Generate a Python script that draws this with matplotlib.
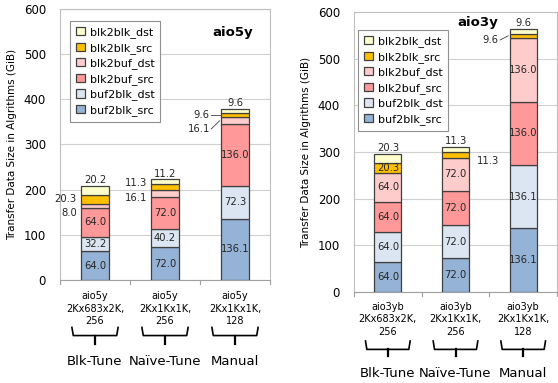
import matplotlib
matplotlib.use('Agg')
import numpy as np
import matplotlib.pyplot as plt

plt.rcParams['font.family'] = ['DejaVu Sans']

# Data (GiB)
series = ['buf2blk_src', 'buf2blk_dst', 'blk2buf_src', 'blk2buf_dst', 'blk2blk_src', 'blk2blk_dst']
colors = ['#95B3D7', '#DCE6F2', '#FF9999', '#FFCCCC', '#FFC000', '#FFFFCC']
groups = ['Blk-Tune', 'Naïve-Tune', 'Manual']

aio5y_labels = ['aio5y\n2Kx683x2K,\n256', 'aio5y\n2Kx1Kx1K,\n256', 'aio5y\n2Kx1Kx1K,\n128']
aio5y_vals = np.array([
    [64.0, 72.0, 136.1],   # buf2blk_src
    [32.2, 40.2, 72.3],    # buf2blk_dst
    [64.0, 72.0, 136.0],   # blk2buf_src
    [8.0, 16.1, 16.1],     # blk2buf_dst
    [20.3, 11.3, 9.6],     # blk2blk_src
    [20.2, 11.2, 9.6],     # blk2blk_dst
])

aio3y_labels = ['aio3yb\n2Kx683x2K,\n256', 'aio3yb\n2Kx1Kx1K,\n256', 'aio3yb\n2Kx1Kx1K,\n128']
aio3y_vals = np.array([
    [64.0, 72.0, 136.1],
    [64.0, 72.0, 136.1],
    [64.0, 72.0, 136.0],
    [64.0, 72.0, 136.0],
    [20.3, 11.3, 9.6],
    [20.3, 11.3, 9.6],
])

# how each segment label is placed: (series index, bar index) -> (mode, y shift)
aio5y_place = {
    (3, 0): ('left', -16), (4, 0): ('left', 0), (5, 0): ('top', 0),
    (3, 1): ('left', -11), (4, 1): ('left', 9), (5, 1): ('top', 0),
    (3, 2): ('lead', -18), (4, 2): ('lead', 0), (5, 2): ('top', 0),
}
aio3y_place = {
    (5, 0): ('top', 0),
    (4, 1): ('right', -12), (5, 1): ('top', 0),
    (4, 2): ('lead', -9), (5, 2): ('top', 0),
}

W, H = 558, 383
fig = plt.figure(figsize=(W / 100, H / 100), dpi=100)
LBL = 7.2


def draw_panel(rect, vals, cat_labels, place, title, title_xy, leg_anchor,
               brace_y, group_y, xpad):
    ax = fig.add_axes([rect[0] / W, 1 - rect[3] / H, (rect[2] - rect[0]) / W,
                       (rect[3] - rect[1]) / H])
    x = np.arange(len(cat_labels))
    bw = 0.4
    bottom = np.zeros(len(x))
    for i, name in enumerate(series):
        ax.bar(x, vals[i], bw, bottom=bottom, color=colors[i], edgecolor='#404040',
               linewidth=0.9, label=name, zorder=3)
        for j in range(len(x)):
            v = vals[i, j]
            yc = bottom[j] + v / 2
            mode, dy = place.get((i, j), ('in', 0))
            txt = f'{v:.1f}'
            if mode == 'in':
                ax.text(x[j], yc, txt, ha='center', va='center', fontsize=LBL,
                        color='#262626', zorder=4)
            elif mode == 'top':
                ax.text(x[j], bottom[j] + v + 1.5, txt, ha='center', va='bottom',
                        fontsize=LBL, color='#262626')
            elif mode == 'left':
                ax.text(x[j] - bw / 2 - 0.06, yc + dy, txt, ha='right', va='center',
                        fontsize=LBL, color='#262626')
            elif mode == 'right':
                ax.text(x[j] + bw / 2 + 0.12, yc + dy, txt, ha='left', va='center',
                        fontsize=LBL, color='#262626')
            elif mode == 'lead':
                ax.plot([x[j] - bw / 2 - 0.14, x[j] - bw / 2 - 0.02],
                        [yc + dy, yc], color='#404040', lw=0.6, zorder=2)
                ax.text(x[j] - bw / 2 - 0.16, yc + dy, txt, ha='right', va='center',
                        fontsize=LBL, color='#262626')
        bottom += vals[i]

    ax.set_ylim(0, 600)
    ax.set_xlim(-0.5, len(x) - 0.5)
    ax.set_yticks(np.arange(0, 601, 100))
    ax.yaxis.grid(True, color='#D0D0D0', lw=0.8, zorder=0)
    ax.tick_params(axis='y', length=0, pad=10, labelsize=8.5)
    ax.set_xticks(x)
    ax.set_xticklabels(cat_labels, fontsize=7, linespacing=1.3)
    ax.tick_params(axis='x', length=0, pad=xpad)
    for b in np.arange(-0.5, len(x), 1.0):
        ax.plot([b, b], [0, -0.015], transform=ax.get_xaxis_transform(),
                color='#A0A0A0', lw=0.8, clip_on=False)
    for s in ax.spines.values():
        s.set_color('#BFBFBF')
        s.set_linewidth(0.8)
    ax.spines['bottom'].set_color('#A0A0A0')
    ax.set_ylabel('Transfer Data Size in Algrithms (GiB)', fontsize=7.5, labelpad=5)

    ax.text(title_xy[0], title_xy[1], title, transform=ax.transAxes, fontsize=9.5,
            fontweight='bold', ha='center', va='center')

    leg = ax.legend(*[list(reversed(h)) for h in ax.get_legend_handles_labels()],
                    loc='upper left', bbox_to_anchor=leg_anchor, fontsize=8,
                    frameon=True, fancybox=False, edgecolor='#909090',
                    handlelength=0.75, handleheight=0.75, handletextpad=0.45,
                    labelspacing=0.42, borderpad=0.55, framealpha=1,
                    borderaxespad=0)
    leg.get_frame().set_linewidth(0.8)

    # curly braces under the categories + group names
    tr = ax.get_xaxis_transform()
    y0, y1 = brace_y
    for j, g in enumerate(groups):
        half = 0.33
        xs = [x[j] - half, x[j] - half + 0.02, x[j] + half - 0.02, x[j] + half]
        ys = [y0, y0 - 0.03, y0 - 0.03, y0]
        ax.plot(xs, ys, transform=tr, color='black', lw=1.2, clip_on=False,
                solid_joinstyle='round')
        ax.plot([x[j], x[j]], [y0 - 0.03, y1], transform=tr, color='black',
                lw=1.6, clip_on=False)
        ax.text(x[j], group_y, g, transform=tr, ha='center', va='center',
                fontsize=9.5, clip_on=False)
    return ax


draw_panel((60, 9, 270, 280), aio5y_vals, aio5y_labels, aio5y_place,
           'aio5y', (0.82, 0.915), (0.048, 0.956), (-0.175, -0.235), -0.3, 8)
draw_panel((354, 12, 557, 292), aio3y_vals, aio3y_labels, aio3y_place,
           'aio3y', (0.61, 0.964), (0.02, 0.936), (-0.175, -0.23), -0.29, 7)

fig.savefig('out.png', dpi=100)
